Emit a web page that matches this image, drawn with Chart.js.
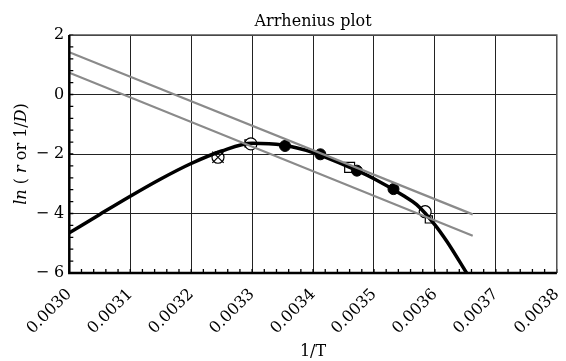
<!DOCTYPE html>
<html>
<head>
<meta charset="utf-8">
<script src="https://cdn.jsdelivr.net/npm/chart.js@4/dist/chart.umd.min.js"></script>
<style>
    body { margin: 0; background: #fff; }
    #wrap { width: 566px; height: 361px; }
</style>
</head>
<body>
<div id="wrap"><canvas id="myChart"></canvas></div>
<script>
const xTicks = [0.0030, 0.0031, 0.0032, 0.0033, 0.0034, 0.0035, 0.0036, 0.0037, 0.0038];
const yTicks = [-6, -4, -2, 0, 2];

// fitted curve
const curveX = [0.0030, 0.00305, 0.0031, 0.00315, 0.0032, 0.00325, 0.0033, 0.00335, 0.0034, 0.00345, 0.0035, 0.00355, 0.00357, 0.0036, 0.00362, 0.003652];
const curveY = [-4.65, -4.03, -3.42, -2.84, -2.32, -1.90, -1.64, -1.70, -1.95, -2.36, -2.83, -3.42, -3.70, -4.38, -4.95, -6.0];

// two straight grey lines
const upperX = [0.0030, 0.003662];
const upperY = [1.42, -4.03];
const lowerX = [0.0030, 0.003662];
const lowerY = [0.73, -4.75];

// measured points
const filledX = [0.003354, 0.003412, 0.003472, 0.003532];
const filledY = [-1.73, -2.01, -2.56, -3.18];
const openX = [0.003298, 0.003584];
const openY = [-1.66, -3.94];
const squareX = [0.003294, 0.00346, 0.00359];
const squareY = [-1.64, -2.45, -4.20];
const squareR = [5, 7, 5];
const crossedX = [0.003244];
const crossedY = [-2.11];

const FONT = 'DejaVu Serif';

function pts(xs, ys) {
    return xs.map((x, i) => ({x: x, y: ys[i]}));
}

const extras = {
    id: 'extras',
    afterDatasetsDraw(chart) {
        const ctx = chart.ctx;
        const a = chart.chartArea;
        const xs = chart.scales.x;
        const ys = chart.scales.y;
        ctx.save();
        // minor ticks
        ctx.strokeStyle = '#000';
        ctx.lineWidth = 1.3;
        ctx.beginPath();
        for (let v = -6; v <= 2.001; v += 0.4) {
            const py = ys.getPixelForValue(v);
            ctx.moveTo(a.left, py);
            ctx.lineTo(a.left + 4, py);
        }
        for (let i = 0; i <= 40; i++) {
            const px = xs.getPixelForValue(0.0030 + i * 0.00002);
            ctx.moveTo(px, a.bottom);
            ctx.lineTo(px, a.bottom - 4);
        }
        ctx.stroke();
        // frame
        ctx.strokeStyle = '#555';
        ctx.lineWidth = 1.5;
        ctx.beginPath();
        ctx.moveTo(a.left, a.top);
        ctx.lineTo(a.right, a.top);
        ctx.lineTo(a.right, a.bottom);
        ctx.stroke();
        ctx.strokeStyle = '#000';
        ctx.lineWidth = 2.5;
        ctx.beginPath();
        ctx.moveTo(a.left, a.top);
        ctx.lineTo(a.left, a.bottom);
        ctx.lineTo(a.right, a.bottom);
        ctx.stroke();
        ctx.restore();
    },
    afterDraw(chart) {
        const ctx = chart.ctx;
        const a = chart.chartArea;
        ctx.save();
        ctx.fillStyle = '#000';
        ctx.textBaseline = 'alphabetic';
        ctx.textAlign = 'center';
        ctx.font = '16px "' + FONT + '"';
        ctx.fillText('Arrhenius plot', (a.left + a.right) / 2, 26);

        // y title with italic parts
        const parts = [['ln', true], [' ( ', false], ['r', true], [' or 1/', false], ['D', true], [')', false]];
        let total = 0;
        parts.forEach(p => {
            ctx.font = (p[1] ? 'italic ' : '') + '16px "' + FONT + '"';
            total += ctx.measureText(p[0]).width;
        });
        ctx.translate(26, (a.top + a.bottom) / 2);
        ctx.rotate(-Math.PI / 2);
        ctx.textAlign = 'left';
        let x = -total / 2;
        parts.forEach(p => {
            ctx.font = (p[1] ? 'italic ' : '') + '16px "' + FONT + '"';
            ctx.fillText(p[0], x, 0);
            x += ctx.measureText(p[0]).width;
        });
        ctx.restore();
    }
};

new Chart(document.getElementById('myChart'), {
    type: 'line',
    data: {
        datasets: [{
            data: pts(upperX, upperY),
            borderColor: '#8a8a8a',
            borderWidth: 2.2,
            pointRadius: 0
        }, {
            data: pts(lowerX, lowerY),
            borderColor: '#8a8a8a',
            borderWidth: 2.2,
            pointRadius: 0
        }, {
            data: pts(curveX, curveY),
            borderColor: '#000',
            borderWidth: 3.5,
            pointRadius: 0,
            cubicInterpolationMode: 'monotone'
        }, {
            data: pts(filledX, filledY),
            showLine: false,
            pointStyle: 'circle',
            pointRadius: 5.5,
            backgroundColor: '#000',
            borderColor: '#000',
            borderWidth: 1
        }, {
            data: pts(openX, openY),
            showLine: false,
            pointStyle: 'circle',
            pointRadius: 6,
            backgroundColor: '#fff',
            borderColor: '#000',
            borderWidth: 1.2
        }, {
            data: pts(squareX, squareY),
            showLine: false,
            pointStyle: 'rect',
            pointRadius: squareR,
            backgroundColor: '#fff',
            borderColor: '#000',
            borderWidth: 1.2
        }, {
            data: pts(crossedX, crossedY),
            showLine: false,
            pointStyle: 'circle',
            pointRadius: 6,
            backgroundColor: 'rgba(255,255,255,0)',
            borderColor: '#000',
            borderWidth: 1.2
        }, {
            data: pts(crossedX, crossedY),
            showLine: false,
            pointStyle: 'crossRot',
            pointRadius: 8,
            borderColor: '#000',
            borderWidth: 1.2
        }]
    },
    options: {
        responsive: true,
        maintainAspectRatio: false,
        animation: false,
        layout: { padding: { top: 35, right: 4.7, left: 0, bottom: 0 } },
        plugins: {
            legend: { display: false },
            tooltip: { enabled: false }
        },
        scales: {
            x: {
                type: 'linear',
                min: 0.0030,
                max: 0.0038,
                afterBuildTicks: s => { s.ticks = xTicks.map(v => ({value: v})); },
                afterFit: s => { s.height = 88; s.paddingLeft = 0; s.paddingRight = 0; },
                grid: { color: '#222', lineWidth: 1, drawTicks: false },
                border: { display: false },
                ticks: {
                    minRotation: 45,
                    maxRotation: 45,
                    padding: 12,
                    color: '#000',
                    font: { family: FONT, size: 16 },
                    callback: v => v.toFixed(4)
                },
                title: {
                    display: true,
                    text: '1/T',
                    color: '#000',
                    font: { family: FONT, size: 16 },
                    padding: { top: 0, bottom: 0 }
                }
            },
            y: {
                min: -6,
                max: 2,
                afterBuildTicks: s => { s.ticks = yTicks.map(v => ({value: v})); },
                afterFit: s => { s.width = 69.3; s.paddingTop = 0; s.paddingBottom = 0; },
                grid: { color: '#222', lineWidth: 1, drawTicks: false },
                border: { display: false },
                ticks: {
                    padding: 5,
                    color: '#000',
                    font: { family: FONT, size: 16 },
                    callback: v => v < 0 ? '\u2212 ' + Math.abs(v) : String(v)
                }
            }
        }
    },
    plugins: [extras]
});
</script>
</body>
</html>
